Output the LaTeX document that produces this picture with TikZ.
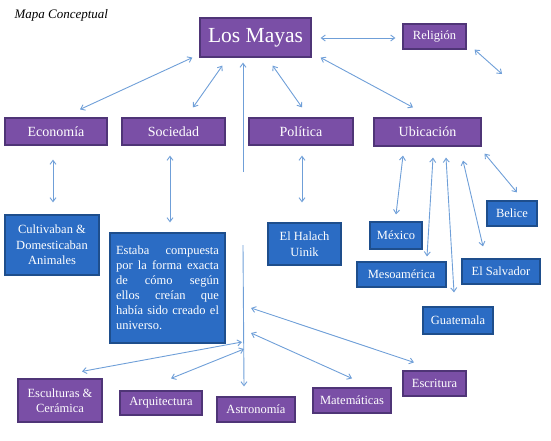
\documentclass[tikz,border=0pt]{standalone}
\usepackage{fontspec}
\setmainfont{Liberation Serif}
\usetikzlibrary{arrows.meta}
\definecolor{pfill}{HTML}{7A4FA6}
\definecolor{pdraw}{HTML}{4F3577}
\definecolor{bfill}{HTML}{2B6CC4}
\definecolor{bdraw}{HTML}{1E4E8C}
\definecolor{lnk}{HTML}{6F9FD8}
\tikzset{
  pbox/.style={draw=pdraw, fill=pfill, line width=1.2pt, text=white, inner sep=0pt, align=center, font=\fontsize{12.5}{15}\selectfont},
  bbox/.style={draw=bdraw, fill=bfill, line width=1.2pt, text=white, inner sep=0pt, align=center, font=\fontsize{12.5}{15.5}\selectfont},
  lk/.style={draw=lnk, line width=0.9pt, {Straight Barb[length=4pt,width=6pt]}-{Straight Barb[length=4pt,width=6pt]}},
  lkend/.style={draw=lnk, line width=0.9pt, -{Straight Barb[length=4pt,width=6pt]}},
  lkline/.style={draw=lnk, line width=0.9pt}
}
\begin{document}
\begin{tikzpicture}[x=1pt,y=-1pt]
\useasboundingbox (0,0) rectangle (551,440);
\node[anchor=west, font=\fontsize{13}{15}\selectfont\itshape] (title) at (11,15) {Mapa Conceptual};
% purple boxes
\node[pbox, minimum width=111pt, minimum height=39pt, font=\fontsize{21.5}{25}\selectfont] (mayas) at (255.5,37.5) {Los Mayas};
\node[pbox, minimum width=63pt, minimum height=25pt] (religion) at (434.5,36.5) {Religión};
\node[pbox, minimum width=102pt, minimum height=27pt, font=\fontsize{14}{16}\selectfont] (economia) at (56,131.5) {Economía};
\node[pbox, minimum width=103pt, minimum height=27pt, font=\fontsize{14}{16}\selectfont] (sociedad) at (173.5,131.5) {Sociedad};
\node[pbox, minimum width=104pt, minimum height=27pt, font=\fontsize{14}{16}\selectfont] (politica) at (301,131.5) {Política};
\node[pbox, minimum width=107pt, minimum height=28pt, font=\fontsize{14}{16}\selectfont] (ubicacion) at (427.5,132) {Ubicación};
\node[pbox, minimum width=84pt, minimum height=43pt] (esculturas) at (60,400.5) {Esculturas \&\\Cerámica};
\node[pbox, minimum width=82pt, minimum height=24pt] (arquitectura) at (161,403) {Arquitectura};
\node[pbox, minimum width=78pt, minimum height=25pt] (astronomia) at (256,409.5) {Astronomía};
\node[pbox, minimum width=78pt, minimum height=25pt] (matematicas) at (352,400.5) {Matemáticas};
\node[pbox, minimum width=63pt, minimum height=25pt] (escritura) at (434.5,383.5) {Escritura};
% blue boxes
\node[bbox, minimum width=94pt, minimum height=60pt] (cultivaban) at (52,245) {Cultivaban \&\\Domesticaban\\Animales};
\node[bbox, minimum width=115pt, minimum height=110pt, text width=103pt, align=justify, font=\fontsize{12.5}{15}\selectfont] (estaba) at (167.5,288) {Estaba compuesta\linebreak por la forma exacta\linebreak de cómo según\linebreak ellos creían que\linebreak había sido creado el\linebreak universo.};
\node[bbox, minimum width=73pt, minimum height=42pt] (halach) at (304.5,244) {El Halach\\Uinik};
\node[bbox, minimum width=52pt, minimum height=27pt] (mexico) at (396,235.5) {México};
\node[bbox, minimum width=50pt, minimum height=25pt] (belice) at (512,213.5) {Belice};
\node[bbox, minimum width=89pt, minimum height=25pt] (meso) at (401.5,274.5) {Mesoamérica};
\node[bbox, minimum width=78pt, minimum height=25pt] (salvador) at (501,271.5) {El Salvador};
\node[bbox, minimum width=70pt, minimum height=27pt] (guatemala) at (458,320.5) {Guatemala};
% free coordinates
\coordinate (relfree) at (502,74);
\coordinate (hubtop) at (243,172);
\coordinate (hub) at (243,245);
\coordinate (h1) at (242,342);
\coordinate (h2) at (244,349);
\coordinate (h3) at (251,333);
\coordinate (h4) at (251,308);
% connectors
\draw[lk] ([shift={(-7,0)}]mayas.south west) -- ([shift={(24,-8)}]economia.north);
\draw[lk] ([shift={(23,8)}]mayas.south west) -- ([shift={(19.5,-10)}]sociedad.north);
\draw[lkend] (hubtop) -- ([shift={(-12.5,5)}]mayas.south);
\draw[lkend] (hub) -- ([shift={(-12,-10)}]astronomia.north);
\draw[lk] ([shift={(-39,8)}]mayas.south east) -- ([shift={(1,-10)}]politica.north);
\draw[lk] ([shift={(9,0)}]mayas.south east) -- ([shift={(-14.5,-10)}]ubicacion.north);
\draw[lk] ([shift={(9,0.5)}]mayas.east) -- ([shift={(-7,1.5)}]religion.west);
\draw[lk] ([shift={(8,0)}]religion.south east) -- (relfree);
\draw[lk] ([shift={(-3,14)}]economia.south) -- ([shift={(1,-12)}]cultivaban.north);
\draw[lk] ([shift={(-3.5,10)}]sociedad.south) -- ([shift={(2.5,-10)}]estaba.north);
\draw[lk] ([shift={(1,10)}]politica.south) -- ([shift={(-2.5,-20)}]halach.north);
\draw[lk] ([shift={(-24.5,9)}]ubicacion.south) -- ([shift={(0,-7)}]mexico.north);
\draw[lk] ([shift={(5.5,11)}]ubicacion.south) -- ([shift={(25.5,-5)}]meso.north);
\draw[lk] ([shift={(18.5,11)}]ubicacion.south) -- ([shift={(-4,-14)}]guatemala.north);
\draw[lk] ([shift={(35.5,14)}]ubicacion.south) -- ([shift={(-18,-12)}]salvador.north);
\draw[lk] ([shift={(3,7)}]ubicacion.south east) -- ([shift={(5,-8)}]belice.north);
\draw[lk] (h1) -- ([shift={(22,-7)}]esculturas.north);
\draw[lk] (h2) -- ([shift={(10,-12)}]arquitectura.north);
\draw[lk] (h3) -- ([shift={(0,-9)}]matematicas.north);
\draw[lk] (h4) -- ([shift={(-20.5,-8)}]escritura.north);
\end{tikzpicture}
\end{document}
